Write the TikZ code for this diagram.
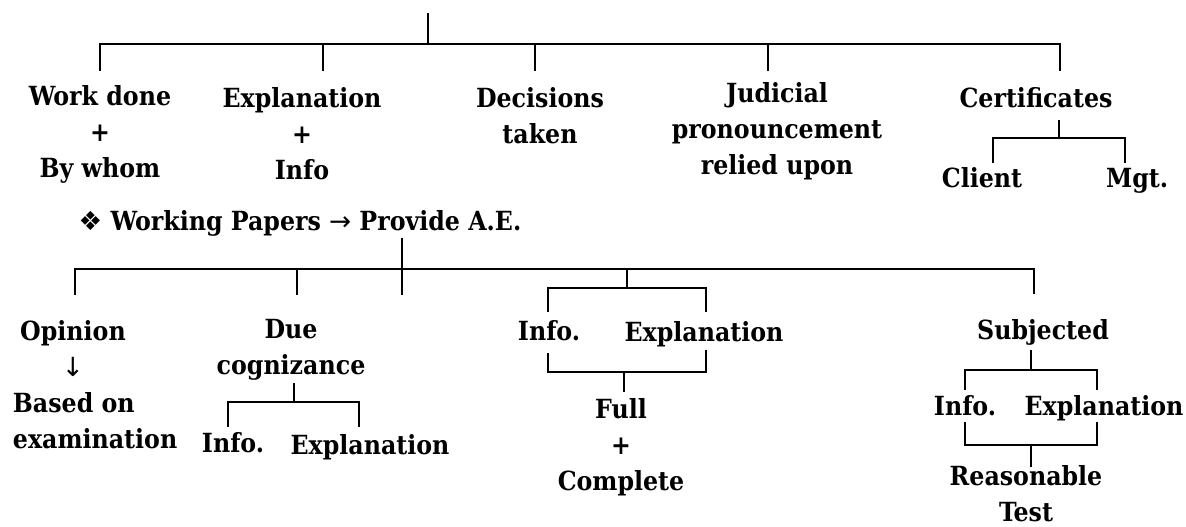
\documentclass[tikz,border=0pt]{standalone}
\usepackage{fontspec}
\setmainfont{DejaVu Serif Condensed}
\newfontfamily\dingfont{DejaVu Sans}
\begin{document}
\begin{tikzpicture}[x=0.02cm, y=-0.02cm, line width=1.1pt,
    every node/.style={font=\fontsize{15}{20.5}\selectfont\bfseries, inner sep=0pt, align=center}]
\useasboundingbox (0,0) rectangle (1186,527);

% upper tree
\node (work) at (100,134) {Work done\\+\\By whom};
\node (expl) at (302,134) {Explanation\\+\\Info};
\node (dec)  at (540,116) {Decisions\\taken};
\node (jud)  at (777,131) {Judicial\\pronouncement\\relied upon};
\node (cert) at (1036,98) {Certificates};
\node[anchor=base] (cli) at (982,187) {Client};
\node[anchor=base] (mgt) at (1137,187) {Mgt.};

\coordinate (rootT) at (428,13);
\coordinate (rootJ) at (428,44);
\coordinate (workT) at (100,71);
\coordinate (explT) at (323,71);
\coordinate (decT)  at (535,71);
\coordinate (judT)  at (768,71);
\coordinate (certT) at (1060,71);
\draw (rootT) -- (rootJ);
\draw (workT) |- (rootJ) -| (certT);
\foreach \c in {explT,decT,judT}
    \draw (\c) -- (\c |- rootJ);

\coordinate (certB) at (1059,120);
\coordinate (certJ) at (1059,138);
\coordinate (cliT)  at (993,163);
\coordinate (mgtT)  at (1125,163);
\draw (certB) -- (certJ);
\draw (cliT) |- (certJ) -| (mgtT);

% lower tree
\node (wp) at (300,223) {{\dingfont\mdseries ❖} Working Papers {\dingfont\mdseries →} Provide A.E.};
\node (opin)  at (73,349) {Opinion\\{\dingfont\mdseries ↓}};
\node[anchor=west, align=left] (based) at (12,421) {Based on\\examination};
\node (due)   at (291,350) {Due\\cognizance};
\node (info1) at (233,443) {Info.};
\node (expl1) at (370,447) {Explanation};
\node[anchor=base] (info2) at (549,340) {Info.};
\node[anchor=base] (expl2) at (704,341) {Explanation};
\node (full)  at (621,447) {Full\\+\\Complete};
\node (subj)  at (1043,332) {Subjected};
\node[anchor=base] (info3) at (965,415) {Info.};
\node[anchor=base] (expl3) at (1104,415) {Explanation};
\node (reas)  at (1026,494) {Reasonable\\Test};

\coordinate (wpS)  at (402,238);
\coordinate (wpJ)  at (402,269);
\coordinate (midT) at (402,295);
\coordinate (opT)  at (75,295);
\coordinate (dueT) at (297,295);
\coordinate (ieT)  at (627,288);
\coordinate (subT) at (1034,294);
\draw (wpS) -- (midT);
\draw (opT) |- (wpJ) -| (subT);
\foreach \c in {dueT,ieT}
    \draw (\c) -- (\c |- wpJ);

% due cognizance
\coordinate (dueB) at (294,383);
\coordinate (dueJ) at (294,402);
\coordinate (dueL) at (228,427);
\coordinate (dueR) at (359,427);
\draw (dueB) -- (dueJ);
\draw (dueL) |- (dueJ) -| (dueR);

% info + explanation -> full + complete
\coordinate (ieL)  at (548,312);
\coordinate (ieR)  at (706,312);
\coordinate (ieL2) at (548,353);
\coordinate (ieR2) at (706,350);
\coordinate (ieB)  at (624,372);
\coordinate (fullT) at (624,392);
\draw (ieL) |- (ieT) -| (ieR);
\draw (ieL2) |- (ieB) -| (ieR2);
\draw (ieB) -- (fullT);

% subjected
\coordinate (subB)  at (1031,350);
\coordinate (subJ)  at (1031,370);
\coordinate (subL)  at (965,390);
\coordinate (subR)  at (1097,390);
\coordinate (subL2) at (965,422);
\coordinate (subR2) at (1097,422);
\coordinate (subK)  at (1031,445);
\coordinate (reasT) at (1031,467);
\draw (subB) -- (subJ);
\draw (subL) |- (subJ) -| (subR);
\draw (subL2) |- (subK) -| (subR2);
\draw (subK) -- (reasT);
\end{tikzpicture}
\end{document}
